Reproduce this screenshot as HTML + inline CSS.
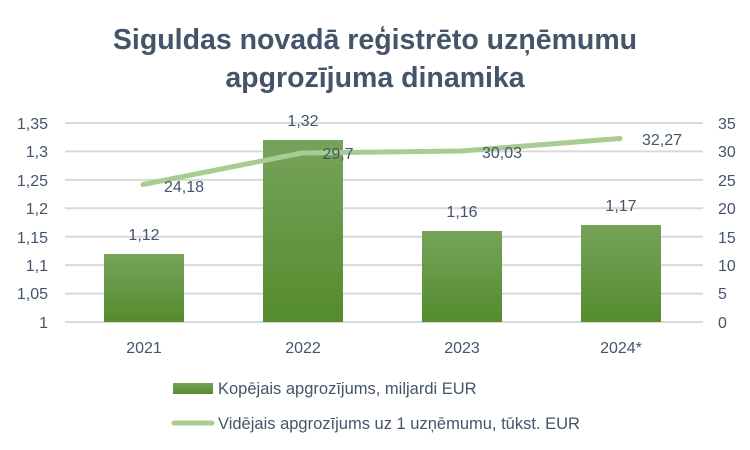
<!DOCTYPE html>
<html><head><meta charset="utf-8"><style>
body{margin:0;background:#fff;}
svg{display:block;font-family:"Liberation Sans",sans-serif;}
</style></head><body>
<svg width="750" height="450" viewBox="0 0 750 450" xmlns="http://www.w3.org/2000/svg">
<defs>
<linearGradient id="g" x1="0" y1="0" x2="0" y2="1">
<stop offset="0" stop-color="#76a35a"/><stop offset="1" stop-color="#548b2e"/>
</linearGradient>
</defs>
<g font-weight="bold" font-size="28.5" fill="#44546a" text-anchor="middle">
<text x="375" y="49">Siguldas novadā reģistrēto uzņēmumu</text>
<text x="375" y="87">apgrozījuma dinamika</text>
</g>
<g stroke="#d9d9d9" stroke-width="2">
<line x1="65" y1="123" x2="703" y2="123"/>
<line x1="65" y1="151.4" x2="703" y2="151.4"/>
<line x1="65" y1="179.9" x2="703" y2="179.9"/>
<line x1="65" y1="208.3" x2="703" y2="208.3"/>
<line x1="65" y1="236.7" x2="703" y2="236.7"/>
<line x1="65" y1="265.1" x2="703" y2="265.1"/>
<line x1="65" y1="293.6" x2="703" y2="293.6"/>
<line x1="65" y1="322" x2="703" y2="322"/>
</g>
<g fill="url(#g)">
<rect x="104" y="254" width="80" height="68"/>
<rect x="263" y="140" width="80" height="182"/>
<rect x="422" y="231" width="80" height="91"/>
<rect x="581" y="225" width="80" height="97"/>
</g>
<polyline points="143,184.5 302,153 461,151 620,138.5" fill="none" stroke="#a9cc92" stroke-width="5" stroke-linecap="round" stroke-linejoin="round"/>
<g font-size="16" fill="#44546a">
<g text-anchor="end">
<text x="48" y="129">1,35</text><text x="48" y="157">1,3</text><text x="48" y="186">1,25</text>
<text x="48" y="214">1,2</text><text x="48" y="243">1,15</text><text x="48" y="271">1,1</text>
<text x="48" y="299">1,05</text><text x="48" y="328">1</text>
</g>
<g>
<text x="718" y="129">35</text><text x="718" y="157">30</text><text x="718" y="186">25</text>
<text x="718" y="214">20</text><text x="718" y="243">15</text><text x="718" y="271">10</text>
<text x="718" y="299">5</text><text x="718" y="328">0</text>
</g>
<g text-anchor="middle">
<text x="144" y="353">2021</text><text x="303" y="353">2022</text><text x="462" y="353">2023</text><text x="621" y="353">2024*</text>
<text x="144" y="240">1,12</text><text x="303" y="126">1,32</text><text x="462" y="217">1,16</text><text x="621" y="211">1,17</text>
<text x="184" y="192">24,18</text><text x="338" y="159">29,7</text><text x="502" y="158">30,03</text><text x="662" y="145">32,27</text>
</g>
<rect x="173" y="383" width="40" height="11" fill="url(#g)"/>
<text x="218" y="394" font-size="16.5">Kopējais apgrozījums, miljardi EUR</text>
<line x1="174" y1="423" x2="212" y2="423" stroke="#a9cc92" stroke-width="5" stroke-linecap="round"/>
<text x="218" y="429" font-size="16.5">Vidējais apgrozījums uz 1 uzņēmumu, tūkst. EUR</text>
</g>
</svg>
</body></html>
